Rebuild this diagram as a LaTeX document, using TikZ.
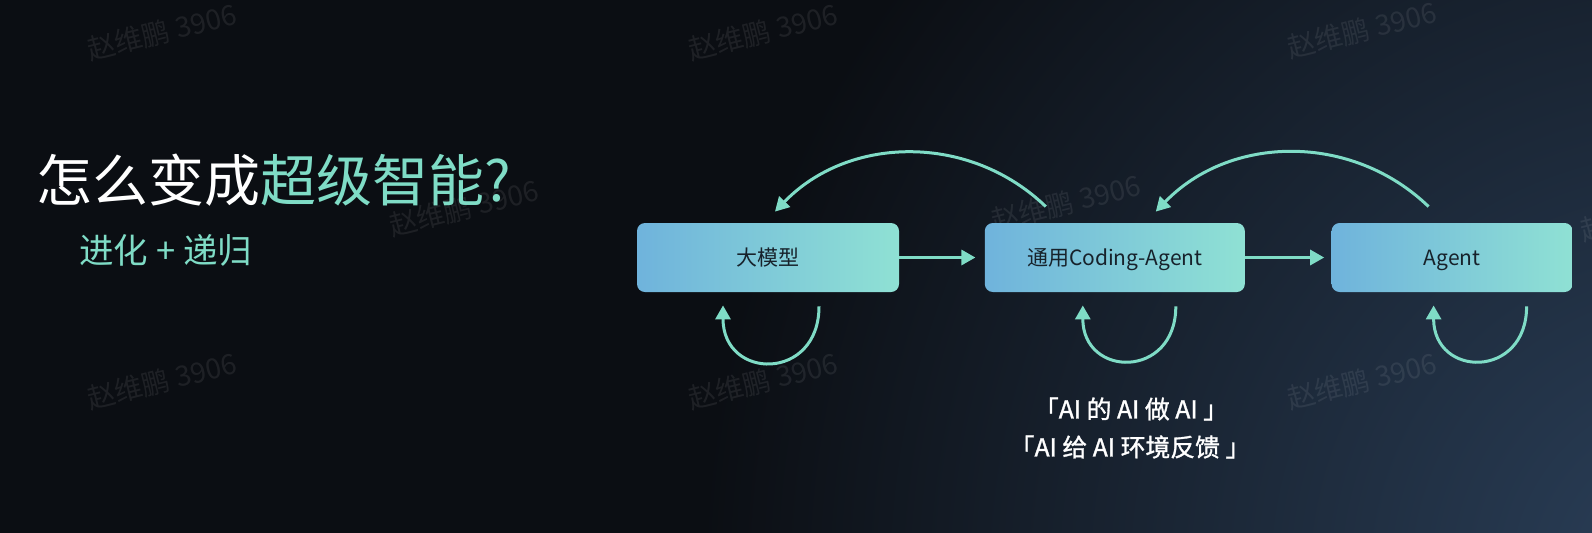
\documentclass[tikz,border=0pt]{standalone}
\usepackage{fontspec}
\newfontfamily\cjk{Noto Sans CJK SC}
\newfontfamily\cjkheavy[FakeBold=1.2]{Noto Sans CJK SC}
\usetikzlibrary{positioning,arrows.meta}

\definecolor{bgdark}{HTML}{0B0E13}
\definecolor{bgblue}{HTML}{2B405A}
\definecolor{arrowteal}{HTML}{7FDCC6}
\definecolor{boxblue}{HTML}{6FB3DC}
\definecolor{boxteal}{HTML}{8FE1D4}
\definecolor{boxtext}{HTML}{17222B}

\begin{document}
\begin{tikzpicture}[x=0.5pt,y=-0.5pt]
			\tikzstyle{stage}=[rectangle,rounded corners=4pt,left color=boxblue,right color=boxteal,minimum height=34.5pt,inner sep=0pt,text height=0.9em,text depth=0.1em,text=boxtext,font=\cjk\fontsize{10.5}{12}\selectfont]
			\tikzstyle{flow}=[draw=arrowteal,line width=1.5pt,-{Triangle[length=7pt,width=7.5pt]}]
			\tikzstyle{wmark}=[text=white,opacity=0.08,rotate=14,font=\cjk\fontsize{14}{16}\selectfont]
			\tikzstyle{quote}=[text=white,font=\cjkheavy\fontsize{12.4}{14}\selectfont]
			
			\useasboundingbox (0,0) rectangle (1592,532);
			\fill[bgdark] (-20,-20) rectangle (1612,552);
			\begin{scope}
				\clip (-20,-20) rectangle (1612,552);
				\shade[inner color=bgblue,outer color=bgdark] (1700,580) circle (1000);
			\end{scope}
			
			\foreach \wx/\wy in {162/32,763/32,1362/30,464/208,1066/203,1655/213,162/381,763/381,1362/381}
				\node[wmark] (wm-\wx-\wy) at (\wx,\wy) {赵维鹏 3906};
			
			\node (title) [anchor=base west,inner sep=0pt,text=white,font=\cjk\fontsize{28}{32}\selectfont] at (36,201) {怎么变成\textcolor{arrowteal}{超级智能?}};
			\node (sub) [anchor=base west,inner sep=0pt,text=arrowteal,font=\cjk\fontsize{17.25}{20}\selectfont] at (79,263) {进化 + 递归};
			
			\node[stage,minimum width=131pt] (llm) at (768,257.5) {大模型};
			\node[stage,minimum width=130pt] (coding) [right=42.5pt of llm] {通用Coding-Agent};
			\node[stage,minimum width=120.5pt] (agent) [right=43pt of coding] {Agent};
			\draw[flow,shorten >=4.5pt] (llm) -- (coding);
			\draw[flow,shorten >=3.5pt] (coding) -- (agent);
			
			\draw[flow] ([xshift=-34.5pt,yshift=8pt]coding.north) to[bend right=45] ([xshift=3.5pt,yshift=5.5pt]llm.north);
			\draw[flow] ([xshift=-11.75pt,yshift=8pt]agent.north) to[bend right=45] ([xshift=20.5pt,yshift=5.5pt]coding.north);
			
			\draw[flow] ([xshift=25.5pt,yshift=-7pt]llm.south) to[out=-90,in=-90,looseness=2] ([xshift=-22.5pt,yshift=-6.5pt]llm.south);
			\draw[flow] ([xshift=30.5pt,yshift=-7pt]coding.south) to[out=-90,in=-90,looseness=2] ([xshift=-16pt,yshift=-6.5pt]coding.south);
			\draw[flow] ([xshift=37.25pt,yshift=-7pt]agent.south) to[out=-90,in=-90,looseness=2] ([xshift=-9.25pt,yshift=-6.5pt]agent.south);
			
			\node[quote] (quote1) at (1131,409) {「AI 的 AI 做 AI 」};
			\node[quote] (quote2) at (1130,447) {「AI 给 AI 环境反馈 」};
			
			
\end{tikzpicture}
\end{document}
